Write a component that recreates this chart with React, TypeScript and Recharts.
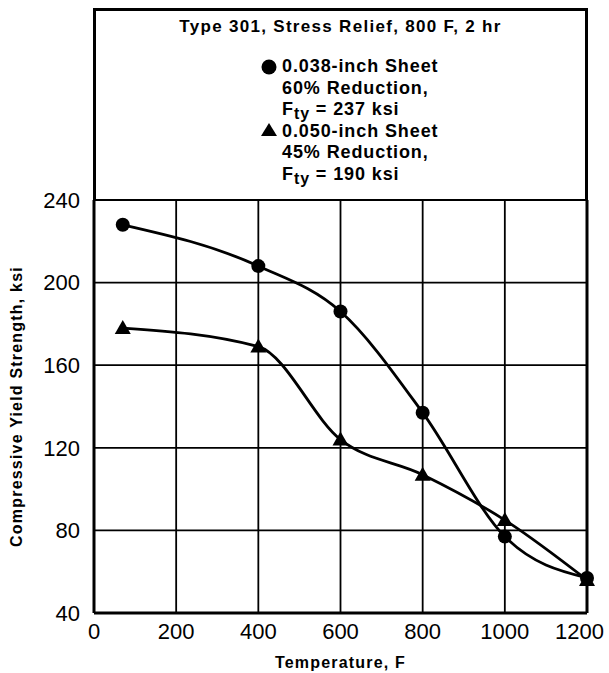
import React from "react";
import {
  LineChart,
  Line,
  XAxis,
  YAxis,
  CartesianGrid,
  Legend,
  ReferenceLine,
} from "recharts";

// temperatures, F
const temps = [70, 400, 600, 800, 1000, 1200];
// compressive yield strength, ksi
const sheet038 = [228, 208, 186, 137, 77, 57];
const sheet050 = [178, 169, 124, 107, 85, 56];

const xTicks = [0, 200, 400, 600, 800, 1000, 1200];
const yTicks = [40, 80, 120, 160, 200, 240];

const titleText = "Type 301, Stress Relief, 800 F, 2 hr";
const legend038 = ["0.038-inch Sheet", "60% Reduction,", "237 ksi"];
const legend050 = ["0.050-inch Sheet", "45% Reduction,", "190 ksi"];

const FONT = '"Liberation Sans", Arial, Helvetica, sans-serif';

const chartData = temps.map((t, i) => ({
  t,
  s038: sheet038[i],
  s050: sheet050[i],
}));

const TriangleDot = (props: any) => {
  const { cx, cy } = props;
  if (cx == null || cy == null) return null;
  const s = 8;
  return (
    <polygon
      points={`${cx},${cy - s} ${cx - s},${cy + s * 0.75} ${cx + s},${cy + s * 0.75}`}
      fill="#000"
    />
  );
};

// last label sits a little left of its gridline so it stays in the frame
const XTick = (props: any) => {
  const { x, y, payload } = props;
  const last = payload.value === xTicks[xTicks.length - 1];
  return (
    <text
      x={last ? x + 17 : x}
      y={y}
      dy={16}
      textAnchor={last ? "end" : "middle"}
      fill="#000"
      fontSize={22}
      fontFamily={FONT}
    >
      {payload.value}
    </text>
  );
};

const Fty = ({ value }: { value: string }) => (
  <span>
    F
    <span style={{ position: "relative", top: 4, fontSize: 16 }}>ty</span> = {value}
  </span>
);

const LegendBox = () => {
  const lineStyle: React.CSSProperties = { height: 21.5, lineHeight: "21.5px" };
  return (
    <div
      style={{
        position: "relative",
        width: 495,
        height: 192,
        boxSizing: "border-box",
        borderTop: "3px solid #000",
        borderLeft: "3px solid #000",
        borderRight: "3px solid #000",
        fontFamily: FONT,
        fontWeight: "bold",
        color: "#000",
      }}
    >
      <div
        style={{
          position: "absolute",
          top: 6,
          left: 0,
          right: 0,
          textAlign: "center",
          fontSize: 17,
          letterSpacing: 1.3,
          lineHeight: "20px",
        }}
      >
        {titleText}
      </div>
      <div
        style={{
          position: "absolute",
          top: 45,
          left: 186,
          fontSize: 18,
          letterSpacing: 0.9,
          whiteSpace: "nowrap",
        }}
      >
        <div style={lineStyle}>{legend038[0]}</div>
        <div style={lineStyle}>{legend038[1]}</div>
        <div style={lineStyle}>
          <Fty value={legend038[2]} />
        </div>
        <div style={lineStyle}>{legend050[0]}</div>
        <div style={lineStyle}>{legend050[1]}</div>
        <div style={lineStyle}>
          <Fty value={legend050[2]} />
        </div>
      </div>
      <svg
        style={{ position: "absolute", top: 45, left: 160 }}
        width={24}
        height={140}
      >
        <circle cx={13} cy={11} r={7.5} fill="#000" />
        <polygon points="13,67 5,80 21,80" fill="#000" />
      </svg>
    </div>
  );
};

export default function App() {
  return (
    <div style={{ position: "absolute", left: 0, top: 0, background: "#fff" }}>
      <LineChart
        width={609}
        height={673}
        data={chartData}
        margin={{ top: 8, right: 22, bottom: 0, left: 0 }}
      >
        <CartesianGrid stroke="#000" strokeWidth={1.8} horizontalValues={yTicks} verticalValues={xTicks} />
        <XAxis
          dataKey="t"
          type="number"
          domain={[0, 1200]}
          ticks={xTicks}
          height={60}
          tickLine={false}
          axisLine={{ stroke: "#000", strokeWidth: 3 }}
          tick={<XTick />}
          tickMargin={4}
          label={{
            value: "Temperature, F",
            position: "insideBottom",
            offset: 5,
            style: {
              fill: "#000",
              fontSize: 16,
              letterSpacing: 1.2,
              fontWeight: "bold",
              fontFamily: FONT,
            },
          }}
        />
        <YAxis
          type="number"
          domain={[40, 240]}
          ticks={yTicks}
          width={94}
          tickLine={false}
          axisLine={{ stroke: "#000", strokeWidth: 3 }}
          tick={{ fill: "#000", fontSize: 22, fontFamily: FONT }}
          tickMargin={8}
          label={{
            value: "Compressive Yield Strength, ksi",
            angle: -90,
            position: "insideLeft",
            offset: 16,
            style: {
              fill: "#000",
              fontSize: 16,
              letterSpacing: 1.2,
              fontWeight: "bold",
              fontFamily: FONT,
              textAnchor: "middle",
            },
          }}
        />
        <ReferenceLine x={1200} stroke="#000" strokeWidth={3} />
        <Legend
          verticalAlign="top"
          align="left"
          content={<LegendBox />}
          wrapperStyle={{ left: 93, top: 8, width: 495, height: 192 }}
        />
        <Line
          type="monotone"
          dataKey="s038"
          stroke="#000"
          strokeWidth={2.8}
          dot={{ r: 7, fill: "#000", stroke: "none" }}
          isAnimationActive={false}
        />
        <Line
          type="monotone"
          dataKey="s050"
          stroke="#000"
          strokeWidth={2.8}
          dot={<TriangleDot />}
          isAnimationActive={false}
        />
      </LineChart>
    </div>
  );
}
